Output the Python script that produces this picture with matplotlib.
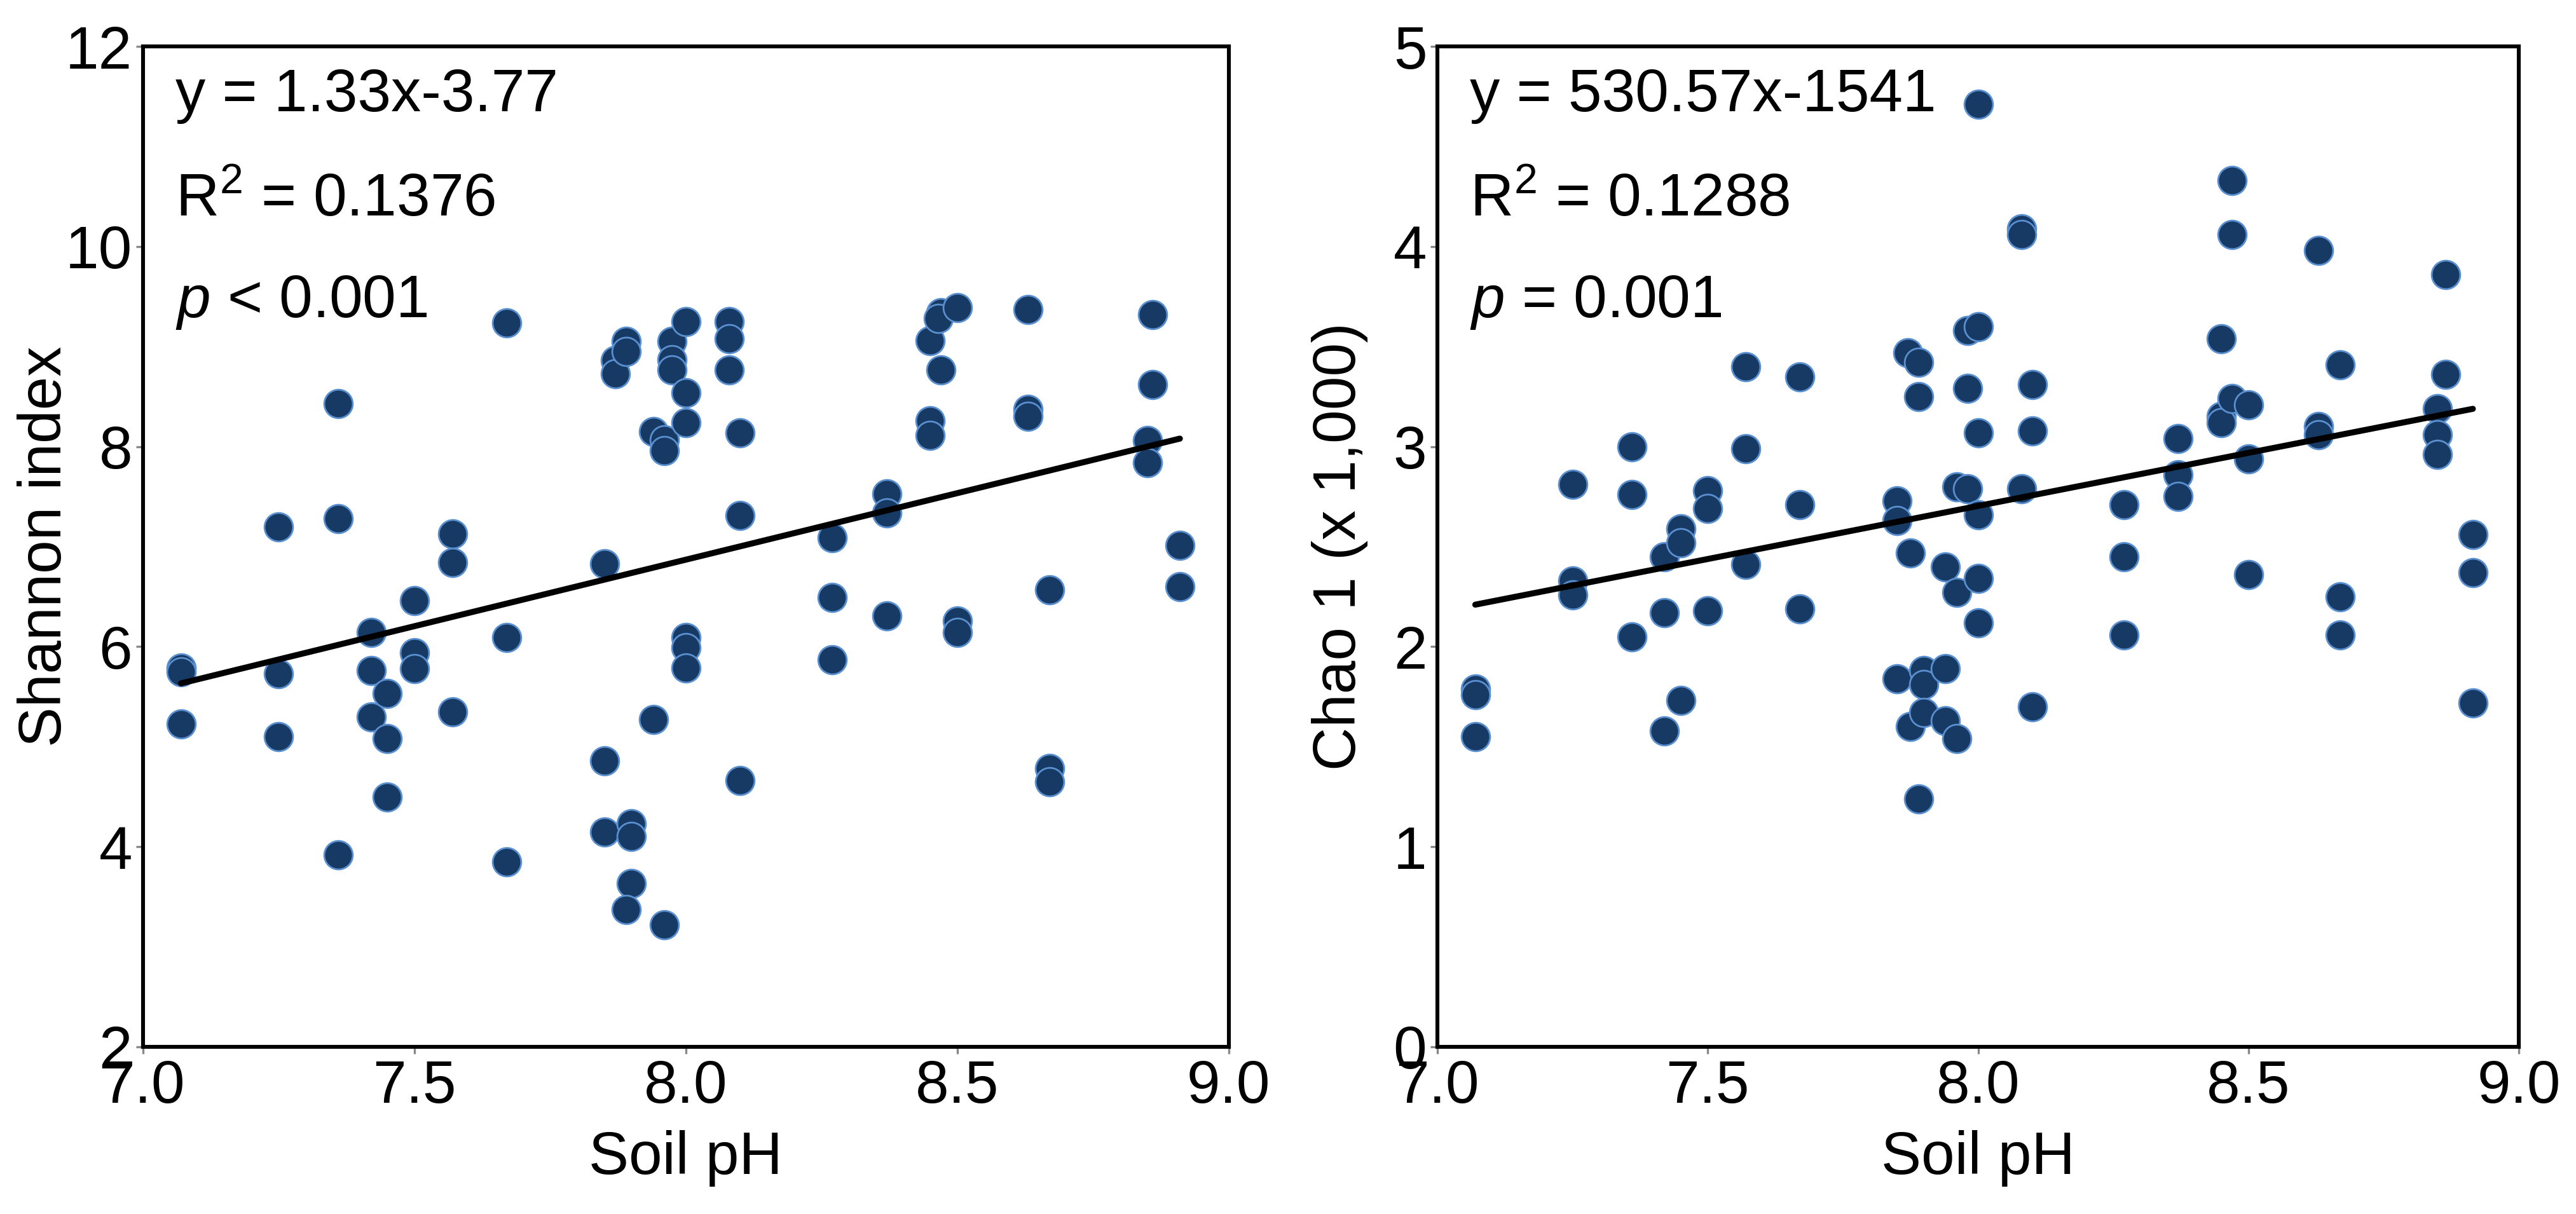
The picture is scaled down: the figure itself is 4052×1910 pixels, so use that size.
import numpy as np
import matplotlib
matplotlib.use('Agg')
import matplotlib.pyplot as plt

plt.rcParams['font.family'] = ['Liberation Sans', 'DejaVu Sans']
plt.rcParams['mathtext.fontset'] = 'custom'
plt.rcParams['mathtext.rm'] = 'Liberation Sans'
plt.rcParams['mathtext.it'] = 'Liberation Sans:italic'

# Shannon index vs soil pH
shannon_ph = [7.07, 7.07, 7.07, 7.25, 7.25, 7.25, 7.36, 7.36, 7.36,
              7.42, 7.42, 7.42, 7.45, 7.45, 7.45, 7.50, 7.50, 7.50,
              7.57, 7.57, 7.57, 7.67, 7.67, 7.67, 7.85, 7.85, 7.85,
              7.87, 7.87, 7.89, 7.89, 7.90, 7.90, 7.90, 7.89,
              7.94, 7.94, 7.96, 7.96, 7.96, 7.975, 7.975, 7.975,
              8.00, 8.00, 8.00, 8.00, 8.00, 8.00, 8.08, 8.08, 8.08,
              8.10, 8.10, 8.10, 8.27, 8.27, 8.27, 8.37, 8.37, 8.37,
              8.45, 8.45, 8.45, 8.47, 8.465, 8.47, 8.50, 8.50, 8.50,
              8.63, 8.63, 8.63, 8.67, 8.67, 8.67, 8.86, 8.86, 8.85, 8.85,
              8.91, 8.91]
shannon = [5.79, 5.75, 5.23, 7.20, 5.73, 5.10, 8.43, 7.28, 3.92,
           6.14, 5.76, 5.30, 5.53, 5.08, 4.50, 6.46, 5.94, 5.78,
           7.13, 6.84, 5.35, 9.24, 6.09, 3.85, 6.83, 4.86, 4.15,
           8.86, 8.73, 9.05, 8.95, 4.23, 4.10, 3.63, 3.37,
           8.15, 5.27, 8.07, 7.96, 3.22, 9.05, 8.87, 8.77,
           9.25, 8.54, 8.24, 6.09, 5.99, 5.79, 9.25, 9.08, 8.77,
           8.14, 7.31, 4.66, 7.09, 6.49, 5.87, 7.53, 7.34, 6.31,
           9.06, 8.26, 8.11, 9.34, 9.28, 8.77, 9.39, 6.26, 6.14,
           9.37, 8.37, 8.30, 6.57, 4.78, 4.65, 9.32, 8.62, 8.06, 7.84,
           7.01, 6.60]

# Chao 1 (x 1,000) vs soil pH
chao_ph = [7.07, 7.07, 7.07, 7.25, 7.25, 7.25, 7.36, 7.36, 7.36,
           7.42, 7.42, 7.42, 7.45, 7.45, 7.45, 7.50, 7.50, 7.50,
           7.57, 7.57, 7.57, 7.67, 7.67, 7.67, 7.85, 7.85, 7.85,
           7.87, 7.875, 7.875, 7.89, 7.89, 7.89, 7.90, 7.90, 7.90,
           7.94, 7.94, 7.94, 7.96, 7.96, 7.96, 7.98, 7.98, 7.98,
           8.00, 8.00, 8.00, 8.00, 8.00, 8.00, 8.08, 8.08, 8.08,
           8.10, 8.10, 8.10, 8.27, 8.27, 8.27, 8.37, 8.37, 8.37,
           8.45, 8.45, 8.45, 8.47, 8.47, 8.47, 8.50, 8.50, 8.50,
           8.63, 8.63, 8.63, 8.67, 8.67, 8.67, 8.85, 8.85, 8.85,
           8.865, 8.865, 8.915, 8.915, 8.915]
chao = [1.79, 1.76, 1.55, 2.81, 2.33, 2.26, 3.00, 2.76, 2.05,
        2.45, 2.17, 1.58, 2.59, 2.52, 1.73, 2.78, 2.69, 2.18,
        3.40, 2.99, 2.41, 3.35, 2.71, 2.19, 2.73, 2.63, 1.84,
        3.47, 2.47, 1.60, 3.42, 3.25, 1.24, 1.88, 1.81, 1.67,
        2.40, 1.89, 1.63, 2.80, 2.27, 1.54, 3.58, 3.29, 2.79,
        4.71, 3.60, 3.07, 2.66, 2.34, 2.12, 4.09, 4.06, 2.79,
        3.31, 3.08, 1.70, 2.71, 2.45, 2.06, 3.04, 2.86, 2.75,
        3.54, 3.15, 3.12, 4.33, 4.06, 3.24, 3.21, 2.94, 2.36,
        3.98, 3.10, 3.06, 3.41, 2.25, 2.06, 3.19, 3.06, 2.96,
        3.86, 3.36, 2.56, 2.37, 1.72]

# fitted lines as printed on the chart
shannon_fit = (1.33, -3.77)
chao_fit = (530.57, -1541)   # raw Chao 1, plotted in thousands

x_ticks = [7.0, 7.5, 8.0, 8.5, 9.0]
x_ticklabels = ['7.0', '7.5', '8.0', '8.5', '9.0']

dot_face = '#173a64'
dot_edge = '#5a8fd0'
fs = 34

fig = plt.figure(figsize=(20.26, 9.55), dpi=200)
ax1 = fig.add_axes([0.0555, 0.1377, 0.4215, 0.824])
ax2 = fig.add_axes([0.558, 0.1377, 0.4198, 0.824])


def style_axes(ax, yticks, ylabel):
    ax.set_xlim(7.0, 9.0)
    ax.set_xticks(x_ticks)
    ax.set_xticklabels(x_ticklabels)
    ax.set_ylim(yticks[0], yticks[-1])
    ax.set_yticks(yticks)
    ax.set_yticklabels([str(t) for t in yticks])
    for s in ax.spines.values():
        s.set_linewidth(2.2)
        s.set_color('black')
    ax.tick_params(axis='both', which='major', labelsize=fs, length=4,
                   width=1.2, color='#888888', direction='out')
    ax.tick_params(axis='x', pad=3)
    ax.tick_params(axis='y', pad=2)
    ax.set_xlabel('Soil pH', fontsize=fs)
    ax.xaxis.set_label_coords(0.5, -0.083)
    ax.set_ylabel(ylabel, fontsize=fs)
    ax.yaxis.set_label_coords(-0.064, 0.5)


# left panel
ax1.scatter(shannon_ph, shannon, s=260, c=dot_face, edgecolors=dot_edge,
            linewidths=1.0, zorder=2)
xl = np.array([min(shannon_ph), max(shannon_ph)])
ax1.plot(xl, shannon_fit[0] * xl + shannon_fit[1], color='black', lw=3.4,
         zorder=3, solid_capstyle='round')
style_axes(ax1, [2, 4, 6, 8, 10, 12], 'Shannon index')
ax1.text(0.03, 0.951, 'y = 1.33x-3.77', transform=ax1.transAxes,
         fontsize=fs, va='center')
ax1.text(0.03, 0.846, r'R$^{2}$ = 0.1376', transform=ax1.transAxes,
         fontsize=fs, va='center')
ax1.text(0.03, 0.744, r'$\mathit{p}$ < 0.001', transform=ax1.transAxes,
         fontsize=fs, va='center')

# right panel
ax2.scatter(chao_ph, chao, s=260, c=dot_face, edgecolors=dot_edge,
            linewidths=1.0, zorder=2)
xr = np.array([min(chao_ph), max(chao_ph)])
ax2.plot(xr, (chao_fit[0] * xr + chao_fit[1]) / 1000, color='black', lw=3.4,
         zorder=3, solid_capstyle='round')
style_axes(ax2, [0, 1, 2, 3, 4, 5], 'Chao 1 (x 1,000)')
ax2.text(0.03, 0.951, 'y = 530.57x-1541', transform=ax2.transAxes,
         fontsize=fs, va='center')
ax2.text(0.03, 0.846, r'R$^{2}$ = 0.1288', transform=ax2.transAxes,
         fontsize=fs, va='center')
ax2.text(0.03, 0.744, r'$\mathit{p}$ = 0.001', transform=ax2.transAxes,
         fontsize=fs, va='center')

fig.savefig('out.png', dpi=200, facecolor='white')
